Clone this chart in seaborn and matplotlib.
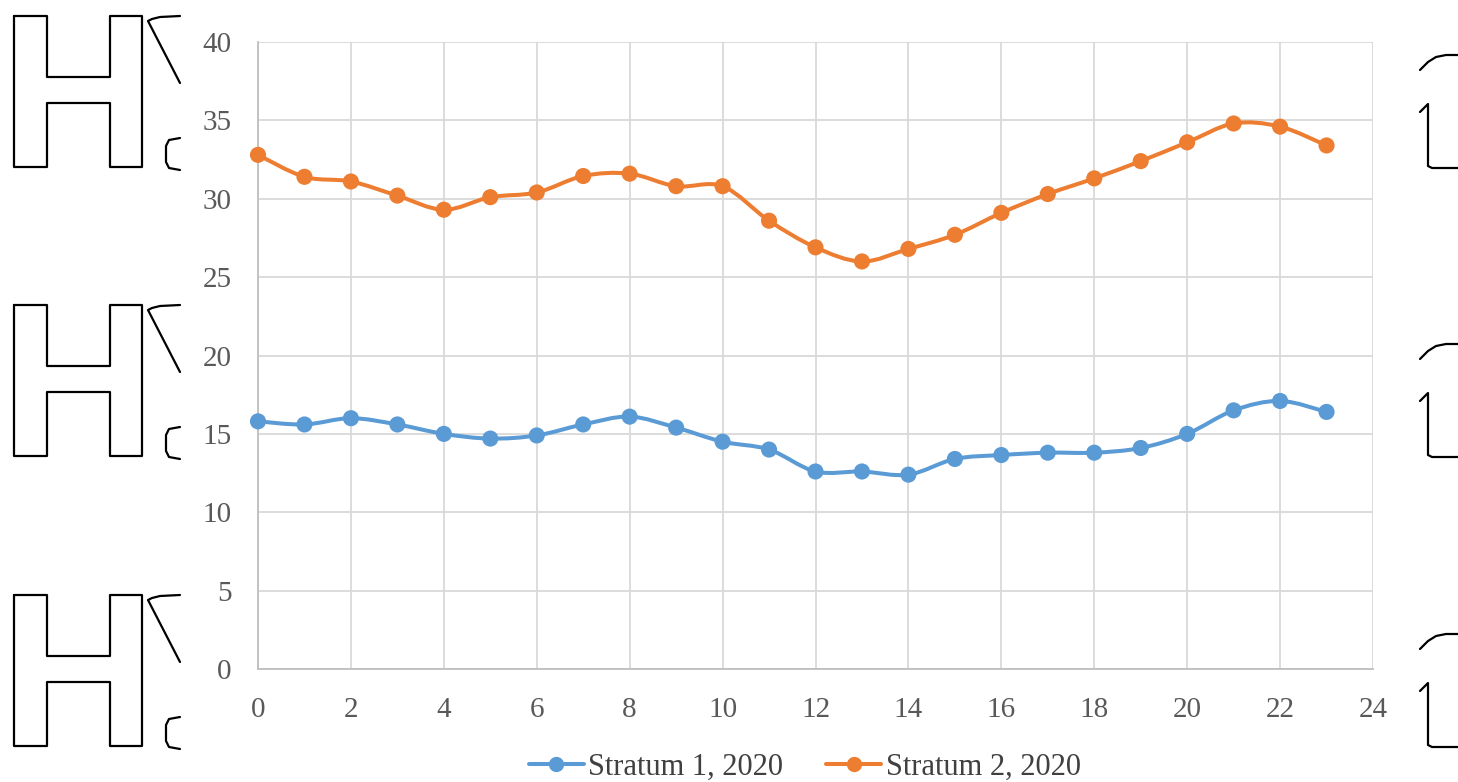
import numpy as np
import pandas as pd
import matplotlib
matplotlib.use("Agg")
import matplotlib.pyplot as plt
from matplotlib.path import Path
from matplotlib.patches import PathPatch
from matplotlib.lines import Line2D
import seaborn as sns

# Hourly values for the two strata
hours = list(range(24))
stratum_1 = [15.8, 15.6, 16.0, 15.6, 15.0, 14.7, 14.9, 15.6, 16.1, 15.4, 14.5, 14.0,
             12.6, 12.6, 12.4, 13.4, 13.65, 13.8, 13.8, 14.1, 15.0, 16.5, 17.1, 16.4]
stratum_2 = [32.8, 31.4, 31.1, 30.2, 29.3, 30.1, 30.4, 31.45, 31.6, 30.8, 30.8, 28.6,
             26.9, 26.0, 26.8, 27.7, 29.1, 30.3, 31.3, 32.4, 33.6, 34.8, 34.6, 33.4]
series_names = ["Stratum 1, 2020", "Stratum 2, 2020"]
x_ticks = list(range(0, 25, 2))
y_ticks = list(range(0, 41, 5))

colors = {"Stratum 1, 2020": "#5B9BD5", "Stratum 2, 2020": "#ED7D31"}

df = pd.DataFrame({
    "hour": hours * 2,
    "value": stratum_1 + stratum_2,
    "series": [series_names[0]] * 24 + [series_names[1]] * 24,
})

sns.set_theme(style="white")
plt.rcParams["font.family"] = ["Liberation Serif", "DejaVu Serif"]

W, H = 1458, 782
fig = plt.figure(figsize=(W / 100, H / 100), dpi=100)
ax = fig.add_axes([258 / W, 1 - 669 / H, (1373 - 258) / W, (669 - 42) / H])


def smooth_path(xs, ys):
    """Cubic Bezier curve through the points (spreadsheet-style smoothing)."""
    pts = np.column_stack([xs, ys]).astype(float)
    n = len(pts)
    verts = [pts[0]]
    codes = [Path.MOVETO]
    for i in range(n - 1):
        p0 = pts[i - 1] if i > 0 else pts[i]
        p1, p2 = pts[i], pts[i + 1]
        p3 = pts[i + 2] if i + 2 < n else pts[i + 1]
        c1 = p1 + (p2 - p0) / 6.0
        c2 = p2 - (p3 - p1) / 6.0
        verts += [c1, c2, p2]
        codes += [Path.CURVE4] * 3
    return Path(verts, codes)


for name, vals in zip(series_names, [stratum_1, stratum_2]):
    ax.add_patch(PathPatch(smooth_path(hours, vals), facecolor="none",
                           edgecolor=colors[name], lw=2.9, zorder=3,
                           capstyle="round", joinstyle="round"))

sns.scatterplot(data=df, x="hour", y="value", hue="series", palette=colors,
                s=135, edgecolor="none", legend=False, ax=ax, zorder=4, clip_on=False)

ax.set_xlim(0, 24)
ax.set_ylim(0, 40)
ax.set_xticks(x_ticks)
ax.set_yticks(y_ticks)
ax.set_xlabel("")
ax.set_ylabel("")
ax.grid(True, color="#D9D9D9", lw=1.3)
ax.set_axisbelow(True)
for side in ["top", "right"]:
    ax.spines[side].set_visible(False)
for side in ["left", "bottom"]:
    ax.spines[side].set_color("#BFBFBF")
    ax.spines[side].set_linewidth(1.3)
ax.tick_params(axis="both", length=0, labelsize=21, labelcolor="#595959")
ax.tick_params(axis="y", pad=19)
ax.tick_params(axis="x", pad=20)

handles = [Line2D([0], [0], color=colors[n], lw=2.9, marker="o", markersize=11,
                  markeredgewidth=0) for n in series_names]
fig.legend(handles, series_names, loc="lower center", bbox_to_anchor=(0.552, -0.004),
           ncol=2, frameon=False, fontsize=22, handlelength=1.8,
           handletextpad=0.15, columnspacing=1.4, labelcolor="#404040",
           borderaxespad=0.0, borderpad=0.1)

# Decorative glyph outlines in the page margins (pixel coordinates, top-left origin)
def px_line(xs, ys, lw=1.6):
    fig.add_artist(Line2D([x / W for x in xs], [1 - y / H for y in ys],
                          transform=fig.transFigure, color="black", lw=lw,
                          solid_joinstyle="round", solid_capstyle="round"))

for off in [0, 289, 579]:
    t, b = 16 + off, 167 + off
    px_line([14, 47, 47, 110, 110, 142, 142, 110, 110, 47, 47, 14, 14],
            [t, t, t + 61, t + 61, t, t, b, b, t + 87, t + 87, b, b, t])
    px_line([180, 160, 152, 148, 180], [t, t + 1, t + 3, t + 5, t + 67])
    px_line([180, 169, 166, 166, 169, 180],
            [t + 122, t + 124, t + 130, t + 146, t + 152, t + 154])
    px_line([1420, 1428, 1436, 1446, 1458], [70 + off, 62 + off, 57 + off, 55 + off, 55 + off])
    px_line([1420, 1428, 1428, 1432, 1458],
            [112 + off, 104 + off, 166 + off, 168 + off, 168 + off])

fig.savefig("out.png", dpi=100, facecolor="white")
